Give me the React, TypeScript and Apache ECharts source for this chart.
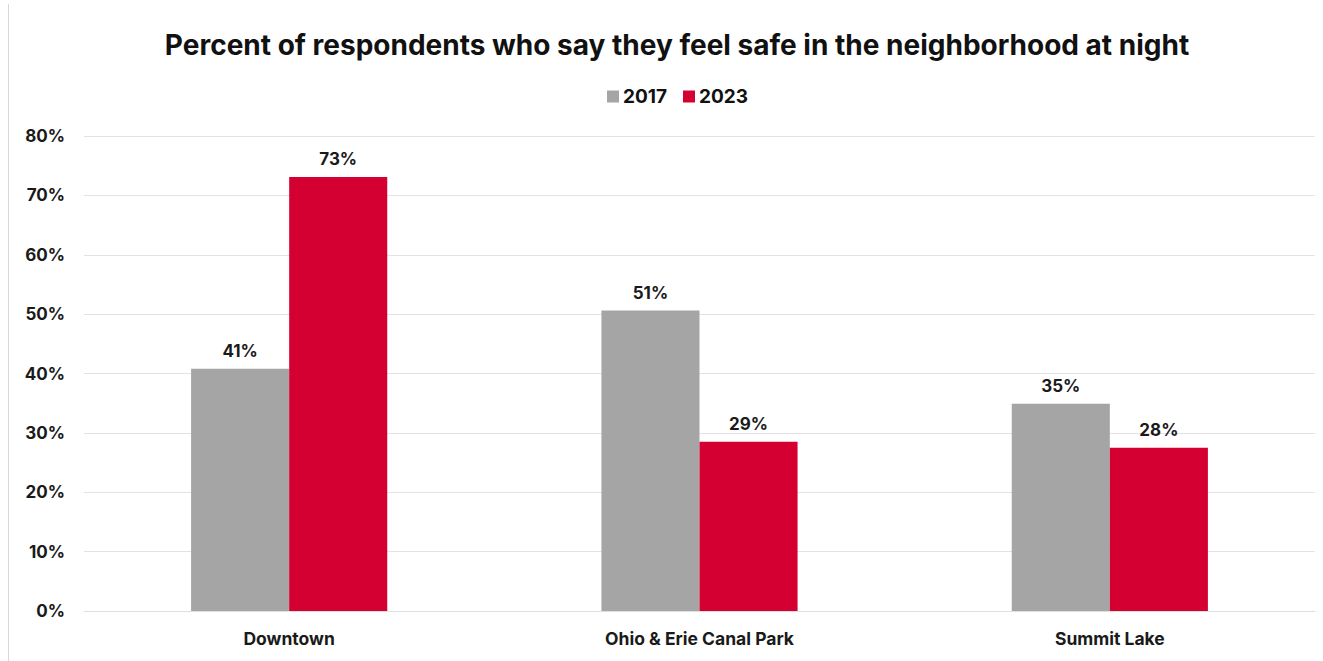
import React, { useEffect, useRef } from "react";
import * as echarts from "echarts";

const categories = ["Downtown", "Ohio & Erie Canal Park", "Summit Lake"];
const values2017 = [40.8, 50.6, 34.9];
const values2023 = [73.1, 28.5, 27.5];
const yTicks = [0, 10, 20, 30, 40, 50, 60, 70, 80];

const FONT = "'Inter', 'Liberation Sans', sans-serif";

export default function App() {
  const ref = useRef<HTMLDivElement>(null);
  useEffect(() => {
    const chart = echarts.init(ref.current!, null, { renderer: "svg" });
    const label = {
      show: true,
      position: "top",
      distance: 9,
      fontFamily: FONT,
      fontWeight: "bold",
      fontSize: 17,
      color: "#1a1a1a",
      formatter: (p: any) => Math.round(p.value) + "%",
    };
    chart.setOption({
      animation: false,
      backgroundColor: "#ffffff",
      title: {
        text: "Percent of respondents who say they feel safe in the neighborhood at night",
        left: 672,
        textAlign: "center",
        top: 26,
        textStyle: { fontFamily: FONT, fontWeight: "bold", fontSize: 28, color: "#111111" },
      },
      legend: {
        data: ["2017", "2023"],
        left: 602,
        top: 82,
        itemWidth: 12,
        itemHeight: 12,
        itemGap: 16,
        icon: "rect",
        textStyle: { fontFamily: FONT, fontWeight: "bold", fontSize: 19, color: "#111111", padding: [0, 0, 0, -1] },
      },
      grid: { left: 84, right: 8, top: 136, bottom: 50, containLabel: false },
      xAxis: {
        type: "category",
        data: categories,
        axisLine: { show: true, lineStyle: { color: "#e0e0e0", width: 1 } },
        axisTick: { show: false },
        axisLabel: { fontFamily: FONT, fontWeight: "bold", fontSize: 17.5, color: "#1a1a1a", margin: 18 },
      },
      yAxis: {
        type: "value",
        min: yTicks[0],
        max: yTicks[yTicks.length - 1],
        interval: 10,
        axisLine: { show: false },
        axisTick: { show: false },
        splitLine: { lineStyle: { color: "#e2e2e2", width: 1 } },
        axisLabel: {
          fontFamily: FONT,
          fontWeight: "bold",
          fontSize: 17,
          color: "#1a1a1a",
          margin: 19,
          formatter: (v: number) => v + "%",
        },
      },
      series: [
        {
          name: "2017",
          type: "bar",
          data: values2017,
          barWidth: "23.9%",
          barGap: "0%",
          itemStyle: { color: "#a5a5a5" },
          label,
        },
        {
          name: "2023",
          type: "bar",
          data: values2023,
          barWidth: "23.9%",
          itemStyle: { color: "#d50032" },
          label,
        },
      ],
      graphic: [
        {
          type: "line",
          shape: { x1: 8.5, y1: 4, x2: 8.5, y2: 661 },
          style: { stroke: "#d8d8d8", lineWidth: 1 },
        },
      ],
    });
    return () => chart.dispose();
  }, []);
  return (
    <div
      ref={ref}
      style={{ position: "fixed", left: 0, top: 0, width: 1323, height: 661 }}
    />
  );
}
